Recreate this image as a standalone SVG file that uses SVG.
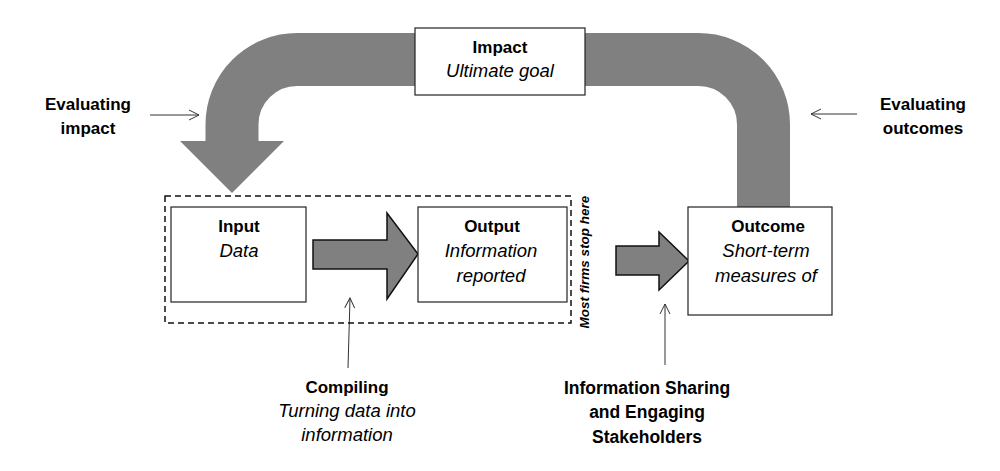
<svg xmlns="http://www.w3.org/2000/svg" width="1000" height="471" viewBox="0 0 1000 471">
<style>
text{font-family:"Liberation Sans",Arial,sans-serif;font-size:17px;fill:#000;text-anchor:middle}
.b{font-weight:bold}
.i{font-style:italic;font-size:18.5px}
.box{fill:#fff;stroke:#222;stroke-width:1.2}
.fat{fill:#808080;stroke:#111;stroke-width:1.5;stroke-linejoin:miter}
.thin{fill:none;stroke:#333;stroke-width:1;marker-end:url(#open)}
</style>
<defs>
<marker id="open" viewBox="0 0 12 12" refX="11" refY="6" markerWidth="12" markerHeight="12" markerUnits="userSpaceOnUse" orient="auto">
<path d="M1,1 L11,6 L1,11" fill="none" stroke="#333" stroke-width="1"/>
</marker>
</defs>
<g id="connectors">
<path id="loop" d="M232,142 V124.5 A65,65 0 0 1 297,59.5 H698.5 A65,65 0 0 1 763.5,124.5 V207.5" fill="none" stroke="#808080" stroke-width="53"/>
<polygon points="180,141 284,141 232,193" fill="#808080"/>
<polygon class="fat" points="313,240 387,240 387,213 418,254 387,299 387,269 313,269"/>
<polygon class="fat" points="616,246 659,246 659,232 689,261 659,290 659,275 616,275"/>
<line class="thin" x1="150" y1="115" x2="199" y2="115"/>
<line class="thin" x1="857" y1="114" x2="811" y2="114"/>
<line class="thin" x1="348" y1="368" x2="350" y2="298"/>
<line class="thin" x1="665" y1="365" x2="665" y2="304"/>
</g>
<g id="scope">
<rect x="165" y="196" width="406" height="127" fill="none" stroke="#111" stroke-width="1.5" stroke-dasharray="6,4"/>
<text class="b" transform="translate(589,262) rotate(-90)" style="font-size:13.5px;font-style:italic">Most firms stop here</text>
</g>
<g id="impact">
<rect class="box" x="415" y="28" width="170" height="67"/>
<text class="b" x="500" y="53">Impact</text>
<text class="i" x="500" y="77">Ultimate goal</text>
</g>
<g id="input">
<rect class="box" x="171" y="207" width="135" height="95"/>
<text class="b" x="239" y="232">Input</text>
<text class="i" x="239" y="257">Data</text>
</g>
<g id="output">
<rect class="box" x="418" y="207" width="149" height="95"/>
<text class="b" x="492" y="232">Output</text>
<text class="i" x="491" y="257">Information</text>
<text class="i" x="491" y="282">reported</text>
</g>
<g id="outcome">
<rect class="box" x="688" y="207" width="144" height="108"/>
<text class="b" x="768" y="232">Outcome</text>
<text class="i" x="766" y="257">Short-term</text>
<text class="i" x="766" y="282">measures of</text>
</g>
<g id="eval-impact">
<text class="b" x="88" y="110">Evaluating</text>
<text class="b" x="88" y="134">impact</text>
</g>
<g id="eval-outcomes">
<text class="b" x="923" y="110">Evaluating</text>
<text class="b" x="923" y="134">outcomes</text>
</g>
<g id="compiling">
<text class="b" x="347" y="393">Compiling</text>
<text class="i" x="347" y="417">Turning data into</text>
<text class="i" x="347" y="441">information</text>
</g>
<g id="sharing">
<text class="b" x="647" y="394" style="font-size:17.5px">Information Sharing</text>
<text class="b" x="647" y="418" style="font-size:17.5px">and Engaging</text>
<text class="b" x="647" y="443" style="font-size:17.5px">Stakeholders</text>
</g>
</svg>
